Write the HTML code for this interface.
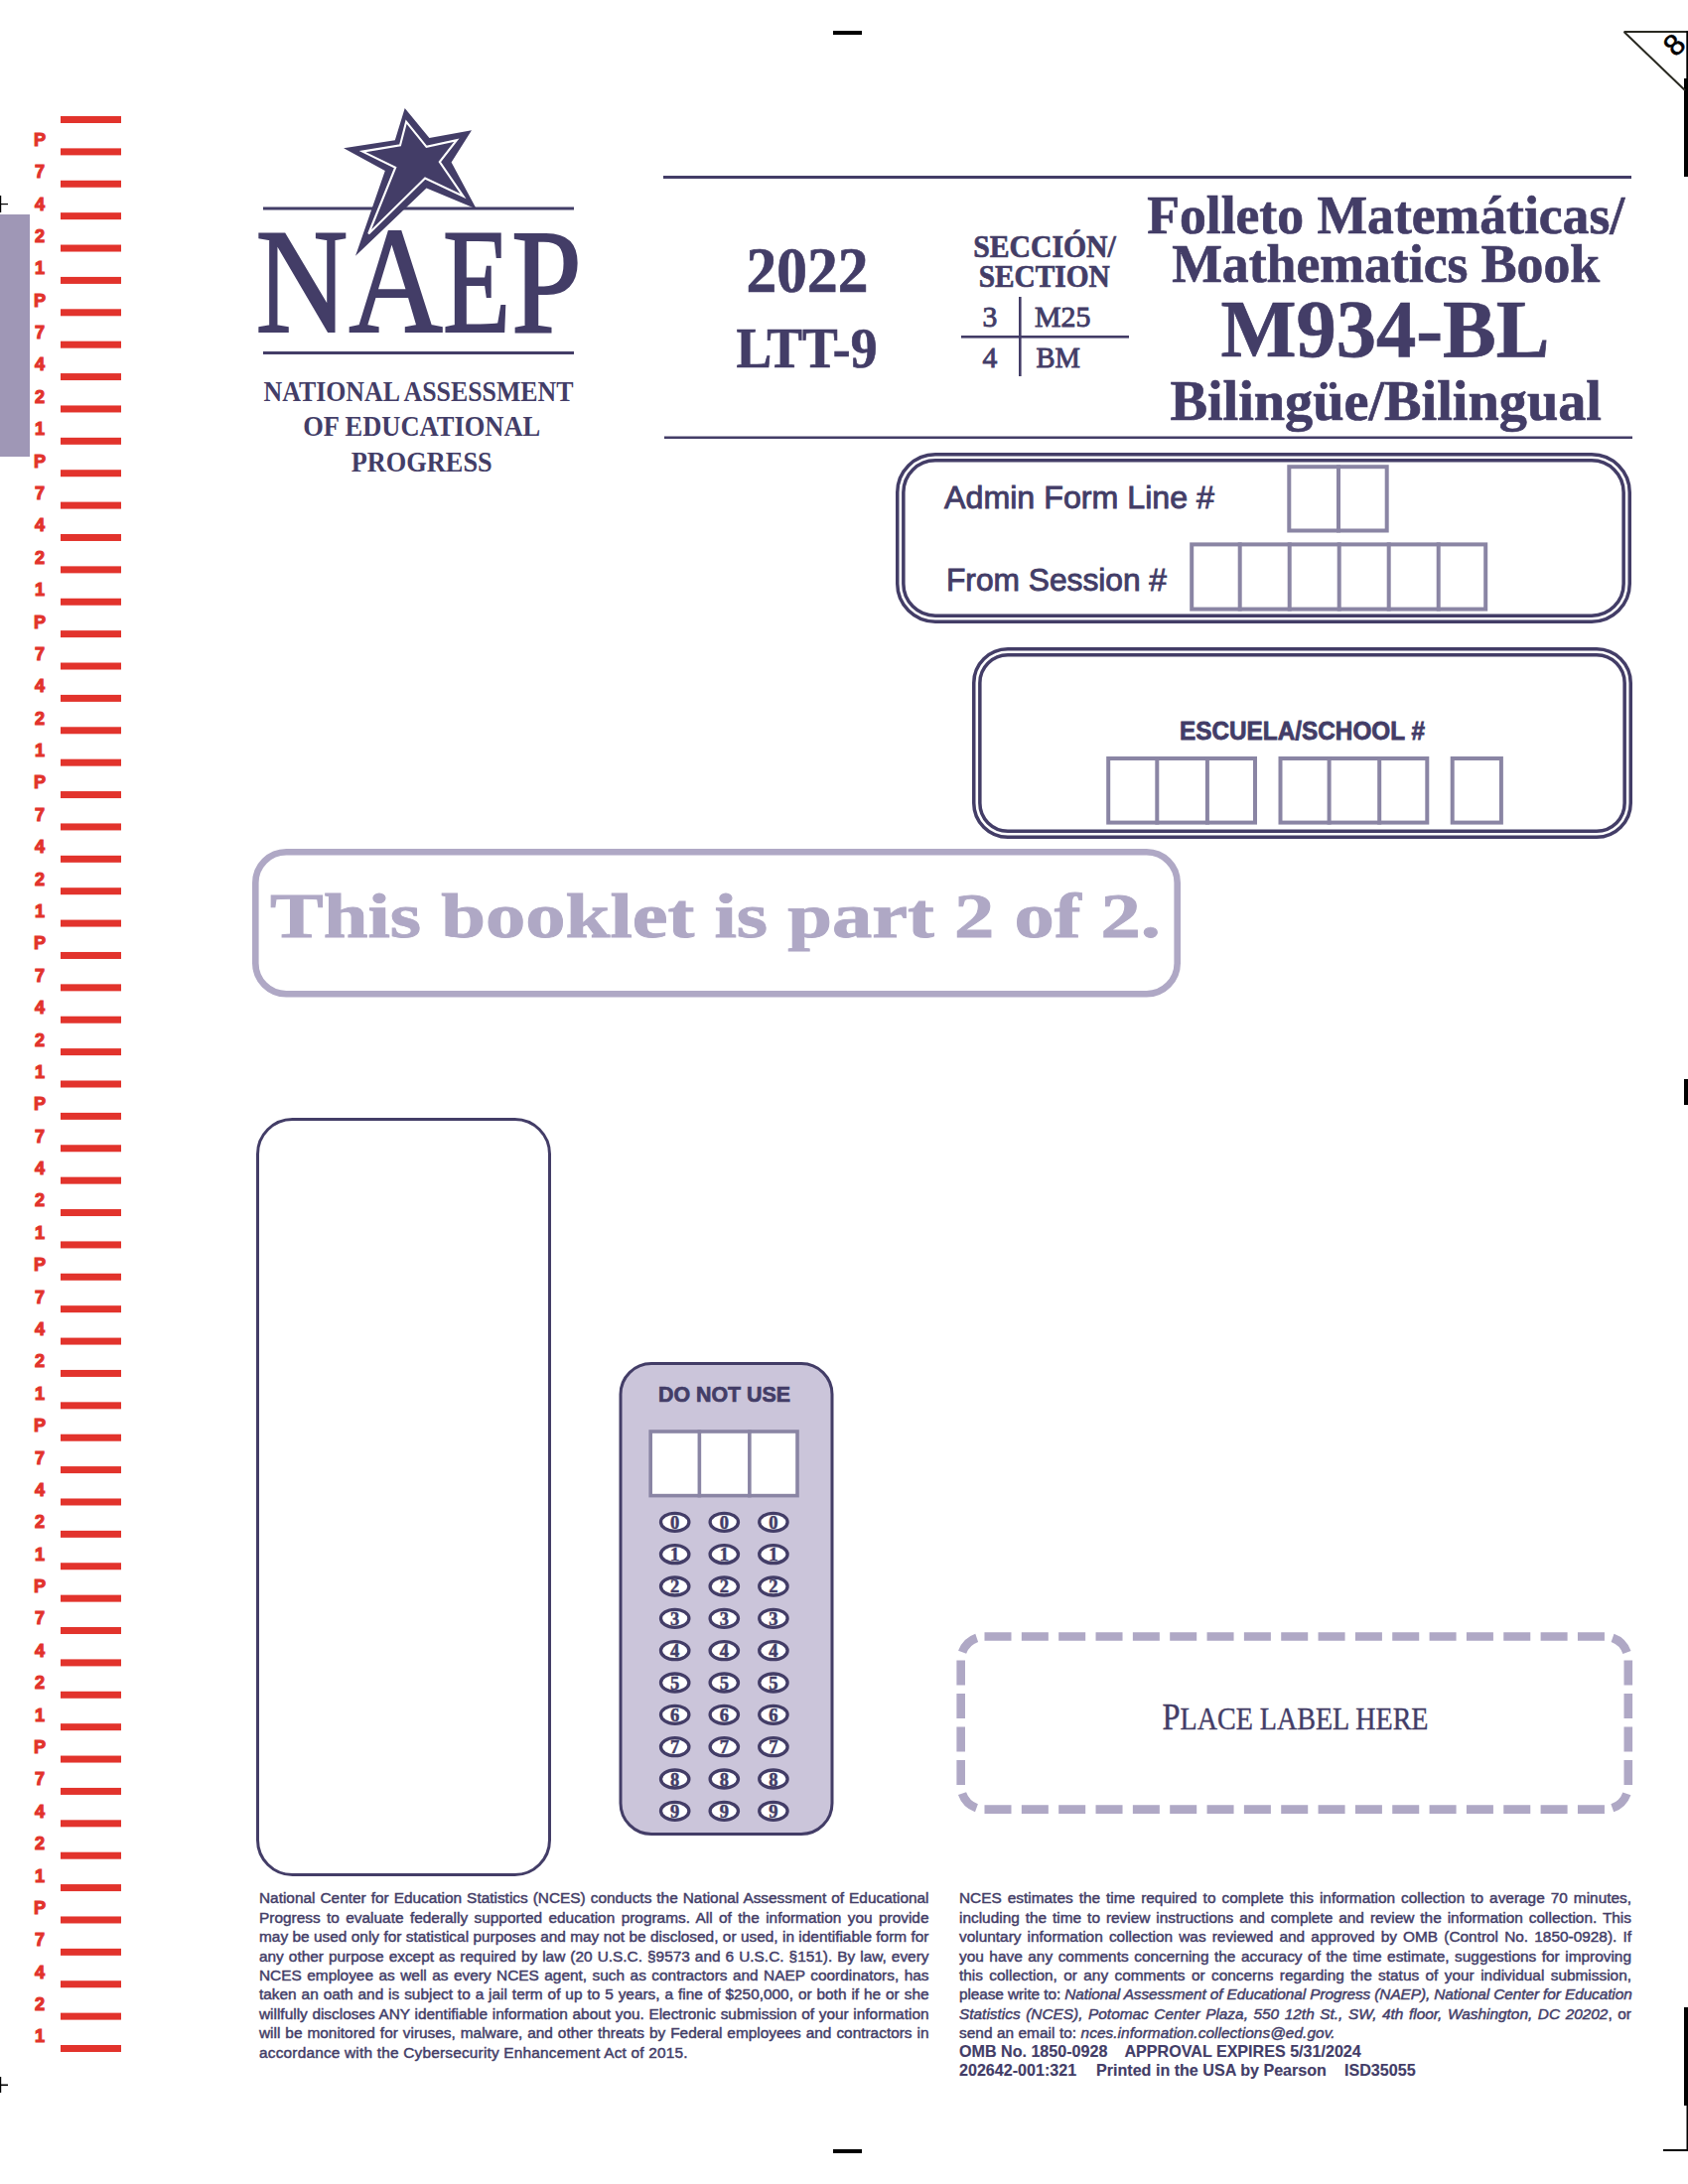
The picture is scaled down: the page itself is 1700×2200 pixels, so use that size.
<!DOCTYPE html>
<html><head><meta charset="utf-8"><title>NAEP M934-BL</title>
<style>
html,body{margin:0;padding:0;background:#fff;}
body{width:1700px;height:2200px;position:relative;overflow:hidden;}
svg{position:absolute;left:0;top:0;}
</style></head><body>
<svg width="1700" height="2200" viewBox="0 0 1700 2200">

<g fill="#000" stroke="none">
<rect x="839" y="31" width="29" height="4"/>
<rect x="839" y="2165" width="29" height="4"/>
<rect x="1696" y="79" width="4" height="99"/>
<rect x="1696" y="1087" width="4" height="26"/>
<rect x="1696" y="2022" width="4" height="99"/>
<rect x="1698.5" y="2121" width="1.5" height="46"/>
<rect x="1675" y="2165" width="25" height="2"/>
<rect x="0" y="197" width="1.2" height="17"/><rect x="0" y="205" width="8" height="1.2"/>
<rect x="0" y="2092" width="1.2" height="16"/><rect x="0" y="2099.5" width="8" height="1.6"/>
</g>
<path d="M1635.5,32 L1699,32 M1635.5,32 L1697,91" stroke="#2a2a22" stroke-width="2" fill="none"/>
<rect x="1698.3" y="31" width="1.7" height="48" fill="#000"/>
<text x="1686" y="55.5" font-family="Liberation Sans" font-size="30" fill="#000" stroke="#000" stroke-width="0.6" text-anchor="middle" transform="rotate(-45 1686 45)">8</text>
<rect x="0" y="216" width="30" height="244" fill="#9f97b6"/>
<g fill="#e2332c">
<rect x="61" y="117.00" width="61" height="7"/>
<rect x="61" y="149.38" width="61" height="7"/>
<rect x="61" y="181.77" width="61" height="7"/>
<rect x="61" y="214.15" width="61" height="7"/>
<rect x="61" y="246.53" width="61" height="7"/>
<rect x="61" y="278.92" width="61" height="7"/>
<rect x="61" y="311.30" width="61" height="7"/>
<rect x="61" y="343.68" width="61" height="7"/>
<rect x="61" y="376.07" width="61" height="7"/>
<rect x="61" y="408.45" width="61" height="7"/>
<rect x="61" y="440.83" width="61" height="7"/>
<rect x="61" y="473.22" width="61" height="7"/>
<rect x="61" y="505.60" width="61" height="7"/>
<rect x="61" y="537.98" width="61" height="7"/>
<rect x="61" y="570.37" width="61" height="7"/>
<rect x="61" y="602.75" width="61" height="7"/>
<rect x="61" y="635.13" width="61" height="7"/>
<rect x="61" y="667.52" width="61" height="7"/>
<rect x="61" y="699.90" width="61" height="7"/>
<rect x="61" y="732.28" width="61" height="7"/>
<rect x="61" y="764.67" width="61" height="7"/>
<rect x="61" y="797.05" width="61" height="7"/>
<rect x="61" y="829.43" width="61" height="7"/>
<rect x="61" y="861.82" width="61" height="7"/>
<rect x="61" y="894.20" width="61" height="7"/>
<rect x="61" y="926.58" width="61" height="7"/>
<rect x="61" y="958.97" width="61" height="7"/>
<rect x="61" y="991.35" width="61" height="7"/>
<rect x="61" y="1023.73" width="61" height="7"/>
<rect x="61" y="1056.12" width="61" height="7"/>
<rect x="61" y="1088.50" width="61" height="7"/>
<rect x="61" y="1120.88" width="61" height="7"/>
<rect x="61" y="1153.27" width="61" height="7"/>
<rect x="61" y="1185.65" width="61" height="7"/>
<rect x="61" y="1218.03" width="61" height="7"/>
<rect x="61" y="1250.42" width="61" height="7"/>
<rect x="61" y="1282.80" width="61" height="7"/>
<rect x="61" y="1315.18" width="61" height="7"/>
<rect x="61" y="1347.57" width="61" height="7"/>
<rect x="61" y="1379.95" width="61" height="7"/>
<rect x="61" y="1412.33" width="61" height="7"/>
<rect x="61" y="1444.72" width="61" height="7"/>
<rect x="61" y="1477.10" width="61" height="7"/>
<rect x="61" y="1509.48" width="61" height="7"/>
<rect x="61" y="1541.87" width="61" height="7"/>
<rect x="61" y="1574.25" width="61" height="7"/>
<rect x="61" y="1606.63" width="61" height="7"/>
<rect x="61" y="1639.02" width="61" height="7"/>
<rect x="61" y="1671.40" width="61" height="7"/>
<rect x="61" y="1703.78" width="61" height="7"/>
<rect x="61" y="1736.17" width="61" height="7"/>
<rect x="61" y="1768.55" width="61" height="7"/>
<rect x="61" y="1800.93" width="61" height="7"/>
<rect x="61" y="1833.32" width="61" height="7"/>
<rect x="61" y="1865.70" width="61" height="7"/>
<rect x="61" y="1898.08" width="61" height="7"/>
<rect x="61" y="1930.47" width="61" height="7"/>
<rect x="61" y="1962.85" width="61" height="7"/>
<rect x="61" y="1995.23" width="61" height="7"/>
<rect x="61" y="2027.62" width="61" height="7"/>
<rect x="61" y="2060.00" width="61" height="7"/>
</g>
<g fill="#e2332c" stroke="#e2332c" stroke-width="1.1" font-family="Liberation Sans" font-weight="bold" font-size="18" text-anchor="middle">
<text x="40" y="146.80">P</text>
<text x="40" y="179.18">7</text>
<text x="40" y="211.57">4</text>
<text x="40" y="243.95">2</text>
<text x="40" y="276.33">1</text>
<text x="40" y="308.72">P</text>
<text x="40" y="341.10">7</text>
<text x="40" y="373.48">4</text>
<text x="40" y="405.87">2</text>
<text x="40" y="438.25">1</text>
<text x="40" y="470.63">P</text>
<text x="40" y="503.02">7</text>
<text x="40" y="535.40">4</text>
<text x="40" y="567.78">2</text>
<text x="40" y="600.17">1</text>
<text x="40" y="632.55">P</text>
<text x="40" y="664.93">7</text>
<text x="40" y="697.32">4</text>
<text x="40" y="729.70">2</text>
<text x="40" y="762.08">1</text>
<text x="40" y="794.47">P</text>
<text x="40" y="826.85">7</text>
<text x="40" y="859.23">4</text>
<text x="40" y="891.62">2</text>
<text x="40" y="924.00">1</text>
<text x="40" y="956.38">P</text>
<text x="40" y="988.77">7</text>
<text x="40" y="1021.15">4</text>
<text x="40" y="1053.53">2</text>
<text x="40" y="1085.92">1</text>
<text x="40" y="1118.30">P</text>
<text x="40" y="1150.68">7</text>
<text x="40" y="1183.07">4</text>
<text x="40" y="1215.45">2</text>
<text x="40" y="1247.83">1</text>
<text x="40" y="1280.22">P</text>
<text x="40" y="1312.60">7</text>
<text x="40" y="1344.98">4</text>
<text x="40" y="1377.37">2</text>
<text x="40" y="1409.75">1</text>
<text x="40" y="1442.13">P</text>
<text x="40" y="1474.52">7</text>
<text x="40" y="1506.90">4</text>
<text x="40" y="1539.28">2</text>
<text x="40" y="1571.67">1</text>
<text x="40" y="1604.05">P</text>
<text x="40" y="1636.43">7</text>
<text x="40" y="1668.82">4</text>
<text x="40" y="1701.20">2</text>
<text x="40" y="1733.58">1</text>
<text x="40" y="1765.97">P</text>
<text x="40" y="1798.35">7</text>
<text x="40" y="1830.73">4</text>
<text x="40" y="1863.12">2</text>
<text x="40" y="1895.50">1</text>
<text x="40" y="1927.88">P</text>
<text x="40" y="1960.27">7</text>
<text x="40" y="1992.65">4</text>
<text x="40" y="2025.03">2</text>
<text x="40" y="2057.42">1</text>
</g>
<g fill="#433d67">
<rect x="265" y="208.5" width="313" height="3"/>
<rect x="265" y="354" width="313" height="3"/>
<g font-family="Liberation Serif" stroke="#433d67" stroke-width="2">
<text x="257.59" y="333.60" font-size="150.23" textLength="92.88" lengthAdjust="spacingAndGlyphs">N</text>
<text x="351.13" y="333.80" font-size="152.53" textLength="94.66" lengthAdjust="spacingAndGlyphs">A</text>
<text x="446.05" y="333.80" font-size="150.38" textLength="68.11" lengthAdjust="spacingAndGlyphs">E</text>
<text x="514.92" y="334.80" font-size="150.38" textLength="70.91" lengthAdjust="spacingAndGlyphs">P</text>
</g>
<polygon points="407.7,109 432.4,138.9 475,131.3 454.6,163.5 479.8,210.4 429.5,189.6 358,257.8 387.8,172 346.1,149.3 397.8,141.2"/>
</g>
<polygon points="409.1,122.7 429.5,147.9 459.9,141.2 442.8,163 466.5,197.6 428.1,179.6 371.2,235.5 398.2,168.7 365.1,152.6 403,146.4" fill="none" stroke="#fff" stroke-width="2.1" stroke-linejoin="miter"/>
<g fill="#433d67" font-family="Liberation Serif" font-weight="bold" text-anchor="middle">
<text x="421.5" y="403.8" font-size="30" textLength="312" lengthAdjust="spacingAndGlyphs">NATIONAL ASSESSMENT</text>
<text x="424.7" y="438.8" font-size="30" textLength="239" lengthAdjust="spacingAndGlyphs">OF EDUCATIONAL</text>
<text x="424.7" y="475.2" font-size="30" textLength="142" lengthAdjust="spacingAndGlyphs">PROGRESS</text>
</g>
<g fill="#433d67">
<rect x="668" y="177" width="975" height="3"/>
<rect x="669" y="439.5" width="975" height="2.5"/>
</g>
<g fill="#433d67" stroke="#433d67" stroke-width="0.7" font-family="Liberation Serif" font-weight="bold" text-anchor="middle">
<text x="813" y="293.9" font-size="66" textLength="123" lengthAdjust="spacingAndGlyphs">2022</text>
<text x="812.5" y="370.3" font-size="58" textLength="142" lengthAdjust="spacingAndGlyphs">LTT-9</text>
<text x="1052" y="259.1" font-size="31.6" textLength="143.6" lengthAdjust="spacingAndGlyphs">SECCIÓN/</text>
<text x="1051.7" y="288.6" font-size="31.6" textLength="132" lengthAdjust="spacingAndGlyphs">SECTION</text>
<text x="1395.7" y="234.8" font-size="55.5" textLength="481" lengthAdjust="spacingAndGlyphs">Folleto Matemáticas/</text>
<text x="1395.7" y="283.6" font-size="55.5" textLength="431" lengthAdjust="spacingAndGlyphs">Mathematics Book</text>
<text x="1395" y="358.8" font-size="82.4" textLength="331" lengthAdjust="spacingAndGlyphs">M934-BL</text>
<text x="1395.7" y="423.2" font-size="56.6" textLength="434.5" lengthAdjust="spacingAndGlyphs">Bilingüe/Bilingual</text>
</g>
<g fill="#433d67">
<rect x="1026" y="299" width="2.6" height="80"/>
<rect x="968" y="338" width="169" height="2.6"/>
</g>
<g fill="#433d67" stroke="#433d67" stroke-width="0.9" font-family="Liberation Serif" font-size="29.6">
<text x="996.8" y="329.4" text-anchor="middle">3</text>
<text x="1042" y="329.4" textLength="56.4" lengthAdjust="spacingAndGlyphs">M25</text>
<text x="996.8" y="369.7" text-anchor="middle">4</text>
<text x="1043.6" y="369.7" textLength="44.4" lengthAdjust="spacingAndGlyphs">BM</text>
</g>
<rect x="903.75" y="457.75" width="737.5" height="168.5" rx="38.25" fill="none" stroke="#433d67" stroke-width="3.5"/><rect x="909.85" y="463.85" width="725.3" height="156.3" rx="32.15" fill="none" stroke="#433d67" stroke-width="3.5"/>
<g fill="#433d67" stroke="#433d67" stroke-width="0.9" font-family="Liberation Sans" font-size="32">
<text x="951" y="512.0" textLength="272" lengthAdjust="spacingAndGlyphs">Admin Form Line #</text>
<text x="953" y="595.2" textLength="222" lengthAdjust="spacingAndGlyphs">From Session #</text>
</g>
<rect x="1298.3" y="470.2" width="98.4" height="64.3" fill="none" stroke="#8a85a4" stroke-width="4"/><rect x="1346.0" y="468.2" width="4" height="68.3" fill="#8a85a4"/>
<rect x="1200.2" y="548.4" width="296.0" height="65.2" fill="none" stroke="#8a85a4" stroke-width="4"/><rect x="1246.7" y="546.4" width="4" height="69.2" fill="#8a85a4"/><rect x="1296.7" y="546.4" width="4" height="69.2" fill="#8a85a4"/><rect x="1346.7" y="546.4" width="4" height="69.2" fill="#8a85a4"/><rect x="1396.7" y="546.4" width="4" height="69.2" fill="#8a85a4"/><rect x="1446.7" y="546.4" width="4" height="69.2" fill="#8a85a4"/>
<rect x="980.75" y="653.75" width="661.5" height="189.5" rx="34.25" fill="none" stroke="#433d67" stroke-width="3.5"/><rect x="986.85" y="659.85" width="649.3" height="177.3" rx="28.15" fill="none" stroke="#433d67" stroke-width="3.5"/>
<text x="1311.5" y="745.3" text-anchor="middle" fill="#433d67" font-family="Liberation Sans" font-weight="bold" font-size="26" textLength="247" lengthAdjust="spacingAndGlyphs" stroke="#433d67" stroke-width="0.8">ESCUELA/SCHOOL #</text>
<rect x="1116.2" y="764.0" width="147.8" height="64.6" fill="none" stroke="#8a85a4" stroke-width="4"/><rect x="1163.3" y="762" width="4" height="68.6" fill="#8a85a4"/><rect x="1213.9" y="762" width="4" height="68.6" fill="#8a85a4"/>
<rect x="1289.5" y="764.0" width="147.8" height="64.6" fill="none" stroke="#8a85a4" stroke-width="4"/><rect x="1336.6" y="762" width="4" height="68.6" fill="#8a85a4"/><rect x="1387.2" y="762" width="4" height="68.6" fill="#8a85a4"/>
<rect x="1462.7" y="764.0" width="49.2" height="64.6" fill="none" stroke="#8a85a4" stroke-width="4"/>
<rect x="257.3" y="858.3" width="928.4" height="142.9" rx="31" fill="none" stroke="#afa8c5" stroke-width="6.6"/>
<text x="272" y="943.7" fill="#afa8c5" font-family="Liberation Serif" font-weight="bold" font-size="63" textLength="897" lengthAdjust="spacingAndGlyphs" stroke="#afa8c5" stroke-width="0.9">This booklet is part 2 of 2.</text>
<rect x="259.5" y="1127.5" width="294" height="761" rx="35" fill="none" stroke="#433d67" stroke-width="3"/>
<rect x="625" y="1373.5" width="213" height="474" rx="31" fill="#cbc5da" stroke="#433d67" stroke-width="3"/>
<text x="729.5" y="1411.5" text-anchor="middle" fill="#433d67" font-family="Liberation Sans" font-weight="bold" font-size="22" textLength="133" lengthAdjust="spacingAndGlyphs" stroke="#433d67" stroke-width="0.7">DO NOT USE</text>
<rect x="655.1999999999999" y="1442.0" width="147.81" height="64.60000000000001" fill="#fff" stroke="#8a85a4" stroke-width="3.6"/><rect x="702.57" y="1440.2" width="3.6" height="68.2" fill="#8a85a4"/><rect x="753.04" y="1440.2" width="3.6" height="68.2" fill="#8a85a4"/>
<g fill="#fff" stroke="#433d67" stroke-width="3.3">
<ellipse cx="679.7" cy="1533.30" rx="14.2" ry="9" />
<ellipse cx="729.3" cy="1533.30" rx="14.2" ry="9" />
<ellipse cx="778.9" cy="1533.30" rx="14.2" ry="9" />
<ellipse cx="679.7" cy="1565.64" rx="14.2" ry="9" />
<ellipse cx="729.3" cy="1565.64" rx="14.2" ry="9" />
<ellipse cx="778.9" cy="1565.64" rx="14.2" ry="9" />
<ellipse cx="679.7" cy="1597.98" rx="14.2" ry="9" />
<ellipse cx="729.3" cy="1597.98" rx="14.2" ry="9" />
<ellipse cx="778.9" cy="1597.98" rx="14.2" ry="9" />
<ellipse cx="679.7" cy="1630.32" rx="14.2" ry="9" />
<ellipse cx="729.3" cy="1630.32" rx="14.2" ry="9" />
<ellipse cx="778.9" cy="1630.32" rx="14.2" ry="9" />
<ellipse cx="679.7" cy="1662.66" rx="14.2" ry="9" />
<ellipse cx="729.3" cy="1662.66" rx="14.2" ry="9" />
<ellipse cx="778.9" cy="1662.66" rx="14.2" ry="9" />
<ellipse cx="679.7" cy="1695.00" rx="14.2" ry="9" />
<ellipse cx="729.3" cy="1695.00" rx="14.2" ry="9" />
<ellipse cx="778.9" cy="1695.00" rx="14.2" ry="9" />
<ellipse cx="679.7" cy="1727.34" rx="14.2" ry="9" />
<ellipse cx="729.3" cy="1727.34" rx="14.2" ry="9" />
<ellipse cx="778.9" cy="1727.34" rx="14.2" ry="9" />
<ellipse cx="679.7" cy="1759.68" rx="14.2" ry="9" />
<ellipse cx="729.3" cy="1759.68" rx="14.2" ry="9" />
<ellipse cx="778.9" cy="1759.68" rx="14.2" ry="9" />
<ellipse cx="679.7" cy="1792.02" rx="14.2" ry="9" />
<ellipse cx="729.3" cy="1792.02" rx="14.2" ry="9" />
<ellipse cx="778.9" cy="1792.02" rx="14.2" ry="9" />
<ellipse cx="679.7" cy="1824.36" rx="14.2" ry="9" />
<ellipse cx="729.3" cy="1824.36" rx="14.2" ry="9" />
<ellipse cx="778.9" cy="1824.36" rx="14.2" ry="9" />
</g>
<g fill="#433d67" stroke="#433d67" stroke-width="0.5" font-family="Liberation Serif" font-weight="bold" font-size="18.5" text-anchor="middle">
<text x="679.7" y="1539.80">0</text>
<text x="729.3" y="1539.80">0</text>
<text x="778.9" y="1539.80">0</text>
<text x="679.7" y="1572.14">1</text>
<text x="729.3" y="1572.14">1</text>
<text x="778.9" y="1572.14">1</text>
<text x="679.7" y="1604.48">2</text>
<text x="729.3" y="1604.48">2</text>
<text x="778.9" y="1604.48">2</text>
<text x="679.7" y="1636.82">3</text>
<text x="729.3" y="1636.82">3</text>
<text x="778.9" y="1636.82">3</text>
<text x="679.7" y="1669.16">4</text>
<text x="729.3" y="1669.16">4</text>
<text x="778.9" y="1669.16">4</text>
<text x="679.7" y="1701.50">5</text>
<text x="729.3" y="1701.50">5</text>
<text x="778.9" y="1701.50">5</text>
<text x="679.7" y="1733.84">6</text>
<text x="729.3" y="1733.84">6</text>
<text x="778.9" y="1733.84">6</text>
<text x="679.7" y="1766.18">7</text>
<text x="729.3" y="1766.18">7</text>
<text x="778.9" y="1766.18">7</text>
<text x="679.7" y="1798.52">8</text>
<text x="729.3" y="1798.52">8</text>
<text x="778.9" y="1798.52">8</text>
<text x="679.7" y="1830.86">9</text>
<text x="729.3" y="1830.86">9</text>
<text x="778.9" y="1830.86">9</text>
</g>
<path d="M991.50,1648.5h27M991.50,1822.6h27M1028.84,1648.5h27M1028.84,1822.6h27M1066.18,1648.5h27M1066.18,1822.6h27M1103.52,1648.5h27M1103.52,1822.6h27M1140.86,1648.5h27M1140.86,1822.6h27M1178.20,1648.5h27M1178.20,1822.6h27M1215.54,1648.5h27M1215.54,1822.6h27M1252.88,1648.5h27M1252.88,1822.6h27M1290.22,1648.5h27M1290.22,1822.6h27M1327.56,1648.5h27M1327.56,1822.6h27M1364.90,1648.5h27M1364.90,1822.6h27M1402.24,1648.5h27M1402.24,1822.6h27M1439.58,1648.5h27M1439.58,1822.6h27M1476.92,1648.5h27M1476.92,1822.6h27M1514.26,1648.5h27M1514.26,1822.6h27M1551.60,1648.5h27M1551.60,1822.6h27M1588.94,1648.5h27M1588.94,1822.6h27M967.7,1672.40v25.2M1639.8,1672.40v25.2M967.7,1705.90v25.2M1639.8,1705.90v25.2M967.7,1739.40v25.2M1639.8,1739.40v25.2M967.7,1772.90v25.2M1639.8,1772.90v25.2" stroke="#afa8c5" stroke-width="8.6" fill="none"/>
<path d="M967.7,1672.3 A23.8,23.8 0 0 1 991.5,1648.5" stroke="#afa8c5" stroke-width="8.6" fill="none" stroke-dasharray="0 8.2 21 100"/>
<path d="M1616.0,1648.5 A23.8,23.8 0 0 1 1639.8,1672.3" stroke="#afa8c5" stroke-width="8.6" fill="none" stroke-dasharray="0 8.2 21 100"/>
<path d="M1639.8,1798.8 A23.8,23.8 0 0 1 1616.0,1822.6" stroke="#afa8c5" stroke-width="8.6" fill="none" stroke-dasharray="0 8.2 21 100"/>
<path d="M991.5,1822.6 A23.8,23.8 0 0 1 967.7,1798.8" stroke="#afa8c5" stroke-width="8.6" fill="none" stroke-dasharray="0 8.2 21 100"/>
<text x="1170.5" y="1741.8" fill="#433d67" font-family="Liberation Serif" font-size="37" textLength="268" lengthAdjust="spacingAndGlyphs" stroke="#433d67" stroke-width="0.4">P<tspan font-size="32">LACE LABEL HERE</tspan></text>
</svg>
<style>.fl{position:absolute;font-family:"Liberation Sans",sans-serif;font-size:15.4px;line-height:19.4px;height:19.4px;color:#433d67;white-space:nowrap;text-align:justify;text-align-last:justify;-webkit-text-stroke:0.45px #433d67;}.fl.nj{text-align-last:left;}</style>
<div class="fl" style="left:261px;top:1902.46px;width:674.5px;letter-spacing:0.000px">National Center for Education Statistics (NCES) conducts the National Assessment of Educational</div>
<div class="fl" style="left:261px;top:1921.86px;width:674.5px;letter-spacing:0.000px">Progress to evaluate federally supported education programs. All of the information you provide</div>
<div class="fl" style="left:261px;top:1941.26px;width:674.5px;letter-spacing:0.000px">may be used only for statistical purposes and may not be disclosed, or used, in identifiable form for</div>
<div class="fl" style="left:261px;top:1960.66px;width:674.5px;letter-spacing:0.000px">any other purpose except as required by law (20 U.S.C. §9573 and 6 U.S.C. §151). By law, every</div>
<div class="fl" style="left:261px;top:1980.06px;width:674.5px;letter-spacing:0.000px">NCES employee as well as every NCES agent, such as contractors and NAEP coordinators, has</div>
<div class="fl" style="left:261px;top:1999.46px;width:674.5px;letter-spacing:0.000px">taken an oath and is subject to a jail term of up to 5 years, a fine of $250,000, or both if he or she</div>
<div class="fl" style="left:261px;top:2018.86px;width:674.5px;letter-spacing:0.000px">willfully discloses ANY identifiable information about you. Electronic submission of your information</div>
<div class="fl" style="left:261px;top:2038.26px;width:674.5px;letter-spacing:0.000px">will be monitored for viruses, malware, and other threats by Federal employees and contractors in</div>
<div class="fl nj" style="left:261px;top:2057.66px;width:674.5px;letter-spacing:0.201px">accordance with the Cybersecurity Enhancement Act of 2015.</div>
<div class="fl" style="left:966px;top:1902.46px;width:677px;letter-spacing:0.000px">NCES estimates the time required to complete this information collection to average 70 minutes,</div>
<div class="fl" style="left:966px;top:1921.86px;width:677px;letter-spacing:0.000px">including the time to review instructions and complete and review the information collection. This</div>
<div class="fl" style="left:966px;top:1941.26px;width:677px;letter-spacing:0.000px">voluntary information collection was reviewed and approved by OMB (Control No. 1850-0928). If</div>
<div class="fl" style="left:966px;top:1960.66px;width:677px;letter-spacing:0.000px">you have any comments concerning the accuracy of the time estimate, suggestions for improving</div>
<div class="fl" style="left:966px;top:1980.06px;width:677px;letter-spacing:0.000px">this collection, or any comments or concerns regarding the status of your individual submission,</div>
<div class="fl" style="left:966px;top:1999.46px;width:677px;letter-spacing:-0.089px">please write to: <i>National Assessment of Educational Progress (NAEP), National Center for Education</i></div>
<div class="fl" style="left:966px;top:2018.86px;width:677px;letter-spacing:0.000px"><i>Statistics (NCES), Potomac Center Plaza, 550 12th St., SW, 4th floor, Washington, DC 20202</i>, or</div>
<div class="fl nj" style="left:966px;top:2038.26px;width:677px;letter-spacing:0.057px">send an email to: <i>nces.information.collections@ed.gov.</i></div>
<div class="fl nj" style="left:966px;top:2057.22px;font-size:16.1px;font-weight:bold;-webkit-text-stroke:0.15px #433d67">OMB No. 1850-0928</div>
<div class="fl nj" style="left:1132.5px;top:2057.22px;font-size:16.1px;font-weight:bold;-webkit-text-stroke:0.15px #433d67">APPROVAL EXPIRES 5/31/2024</div>
<div class="fl nj" style="left:966px;top:2075.72px;font-size:16.1px;font-weight:bold;-webkit-text-stroke:0.15px #433d67">202642-001:321</div>
<div class="fl nj" style="left:1104px;top:2075.72px;font-size:16.1px;font-weight:bold;-webkit-text-stroke:0.15px #433d67">Printed in the USA by Pearson</div>
<div class="fl nj" style="left:1354px;top:2075.72px;font-size:16.1px;font-weight:bold;-webkit-text-stroke:0.15px #433d67">ISD35055</div>
</body></html>
